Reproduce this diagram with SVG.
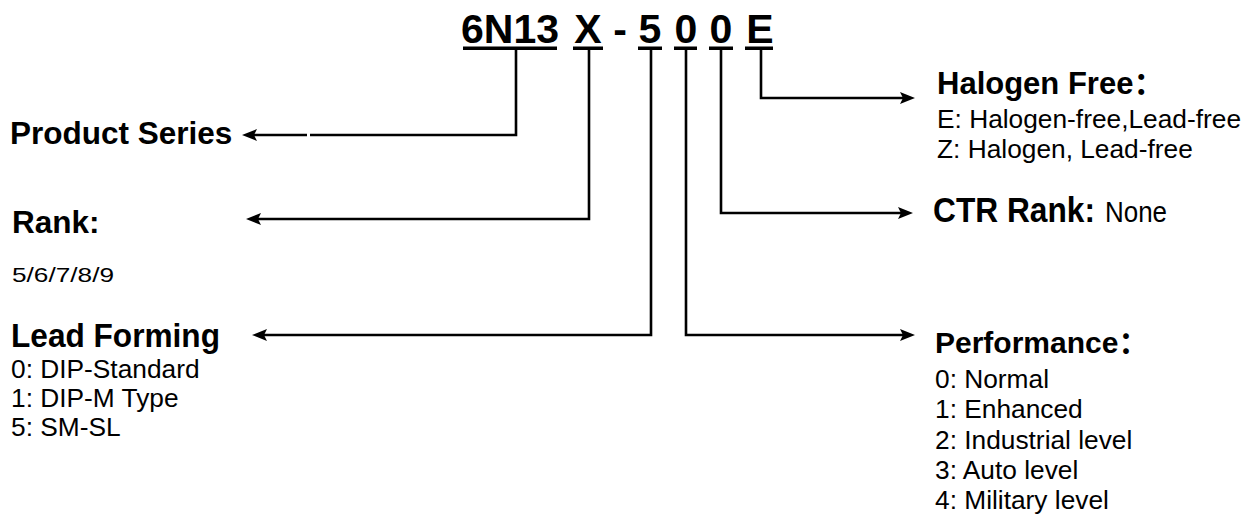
<svg xmlns="http://www.w3.org/2000/svg" width="1256" height="515" viewBox="0 0 1256 515">
<style>
.t{font-family:"Liberation Sans",Arial,sans-serif;fill:#000}
.title{font-size:41px;font-weight:bold;text-anchor:middle}
.h{font-size:31.5px;font-weight:bold}
.hr{font-size:31px;font-weight:bold}
.r{font-size:26.3px}
.cj{font-family:"Liberation Sans","Noto Sans CJK SC",sans-serif}
.ln{fill:none;stroke:#000;stroke-width:2.6}
.ah{fill:#000}
</style>
<rect width="1256" height="515" fill="#fff"/>
<g id="code">
<text class="t title" x="510" y="43">6N13</text>
<text class="t title" x="588" y="43">X</text>
<text class="t title" x="620" y="43">-</text>
<text class="t title" x="650" y="43">5</text>
<text class="t title" x="686" y="43">0</text>
<text class="t title" x="721" y="43">0</text>
<text class="t title" x="760" y="43">E</text>
<rect x="463" y="46.5" width="94" height="3.5"/>
<rect x="573" y="46.5" width="30" height="3.5"/>
<rect x="638" y="46.5" width="24" height="3.5"/>
<rect x="674" y="46.5" width="23" height="3.5"/>
<rect x="709" y="46.5" width="24" height="3.5"/>
<rect x="745" y="46.5" width="28" height="3.5"/>
</g>
<g id="connectors">
<polyline class="ln" points="516,50 516,135 310,135"/>
<polyline class="ln" points="307,135 252,135"/>
<polygon class="ah" points="242,135 257,129 254,135 257,141"/>
<polyline class="ln" points="589,50 589,219 257,219"/>
<polygon class="ah" points="246,219 261,213 258,219 261,225"/>
<polyline class="ln" points="651,50 651,335 263,335"/>
<polygon class="ah" points="252,335 267,329 264,335 267,341"/>
<polyline class="ln" points="686,50 686,335 905,335"/>
<polygon class="ah" points="915,335 900,329 903,335 900,341"/>
<polyline class="ln" points="721,50 721,213 903,213"/>
<polygon class="ah" points="913,213 898,207 901,213 898,219"/>
<polyline class="ln" points="761,50 761,98 905,98"/>
<polygon class="ah" points="915,98 900,92 903,98 900,104"/>
</g>
<g id="product-series">
<text class="t h" x="10" y="144">Product Series</text>
</g>
<g id="rank">
<text class="t h" x="12" y="233">Rank:</text>
<text class="t" style="font-size:21px" x="12" y="282" textLength="102" lengthAdjust="spacingAndGlyphs">5/6/7/8/9</text>
</g>
<g id="lead-forming">
<text class="t h" style="font-size:34px" x="11" y="347" textLength="209" lengthAdjust="spacingAndGlyphs">Lead Forming</text>
<text class="t r" x="11" y="378">0: DIP-Standard</text>
<text class="t r" x="11" y="407">1: DIP-M Type</text>
<text class="t r" x="11" y="436">5: SM-SL</text>
</g>
<g id="halogen-free">
<text class="t hr cj" x="937" y="94">Halogen Free：</text>
<text class="t r" x="937" y="128">E: Halogen-free,Lead-free</text>
<text class="t r" x="937" y="158">Z: Halogen, Lead-free</text>
</g>
<g id="ctr-rank">
<text class="t" style="font-size:35px;font-weight:bold" x="933" y="222" textLength="162" lengthAdjust="spacingAndGlyphs">CTR Rank:</text>
<text class="t" style="font-size:29px" x="1105" y="222" textLength="62" lengthAdjust="spacingAndGlyphs">None</text>
</g>
<g id="performance">
<text class="t hr cj" x="935" y="353" style="font-size:30px">Performance：</text>
<text class="t r" x="935" y="388">0: Normal</text>
<text class="t r" x="935" y="418">1: Enhanced</text>
<text class="t r" x="935" y="449">2: Industrial level</text>
<text class="t r" x="935" y="479">3: Auto level</text>
<text class="t r" x="935" y="509">4: Military level</text>
</g>
</svg>
